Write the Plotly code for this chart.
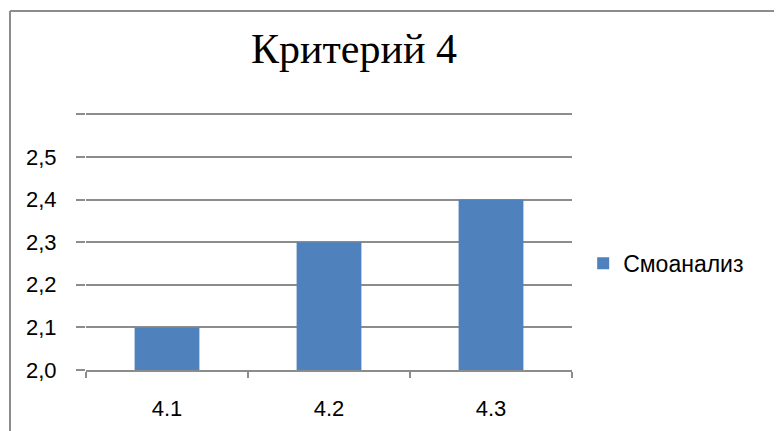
import plotly.graph_objects as go

categories = ["4.1", "4.2", "4.3"]
values = [2.1, 2.3, 2.4]
series_name = "Смоанализ"
y_tickvals = [2.0, 2.1, 2.2, 2.3, 2.4, 2.5, 2.6]
y_ticktext = ["2,0", "2,1", "2,2", "2,3", "2,4", "2,5", ""]
title_text = "Критерий 4"

GRID = "#8c8c8c"
BAR = "#4f81bd"

# The page body adds an 8px offset; layout numbers below compensate for it.
fig = go.Figure()
fig.add_trace(go.Bar(x=categories, y=values, name=series_name,
                     marker=dict(color=BAR, line=dict(width=0)),
                     showlegend=True))

fig.update_layout(
    width=782, height=431,
    margin=dict(l=78, r=218, t=102, b=69),
    paper_bgcolor="white", plot_bgcolor="white",
    bargap=0.6,
    title=dict(text=title_text, x=346/782, xanchor="center", xref="container",
               y=1-40/431, yanchor="middle", yref="container",
               font=dict(family="Liberation Serif", size=42, color="black")),
    font=dict(family="Liberation Sans", color="black"),
    showlegend=True,
    legend=dict(x=1.023, xanchor="left", y=0.41, yanchor="middle",
                font=dict(size=23, color="black"), bgcolor="rgba(0,0,0,0)"),
    xaxis=dict(showline=True, linecolor=GRID, linewidth=1.5,
               ticks="outside", ticklen=6, tickcolor=GRID, tickwidth=1.5,
               tickson="boundaries", showgrid=False,
               tickfont=dict(size=22, color="black"), ticklabelstandoff=18),
    yaxis=dict(range=[2.0, 2.61], tickvals=y_tickvals, ticktext=y_ticktext,
               showgrid=True, gridcolor=GRID, gridwidth=1.5,
               ticks="outside", ticklen=9, tickcolor=GRID, tickwidth=1.5,
               zeroline=False, showline=False,
               tickfont=dict(size=22, color="black"), ticklabelstandoff=15),
    shapes=[
        dict(type="line", xref="paper", yref="paper",
             x0=-76/486, x1=1+230/486, y0=1+99/260, y1=1+99/260,
             line=dict(color="#8c8c8c", width=2)),
        dict(type="line", xref="paper", yref="paper",
             x0=-76/486, x1=-76/486, y0=1+99/260, y1=-80/260,
             line=dict(color="#8c8c8c", width=2)),
    ],
)

fig.write_html("out.html")
